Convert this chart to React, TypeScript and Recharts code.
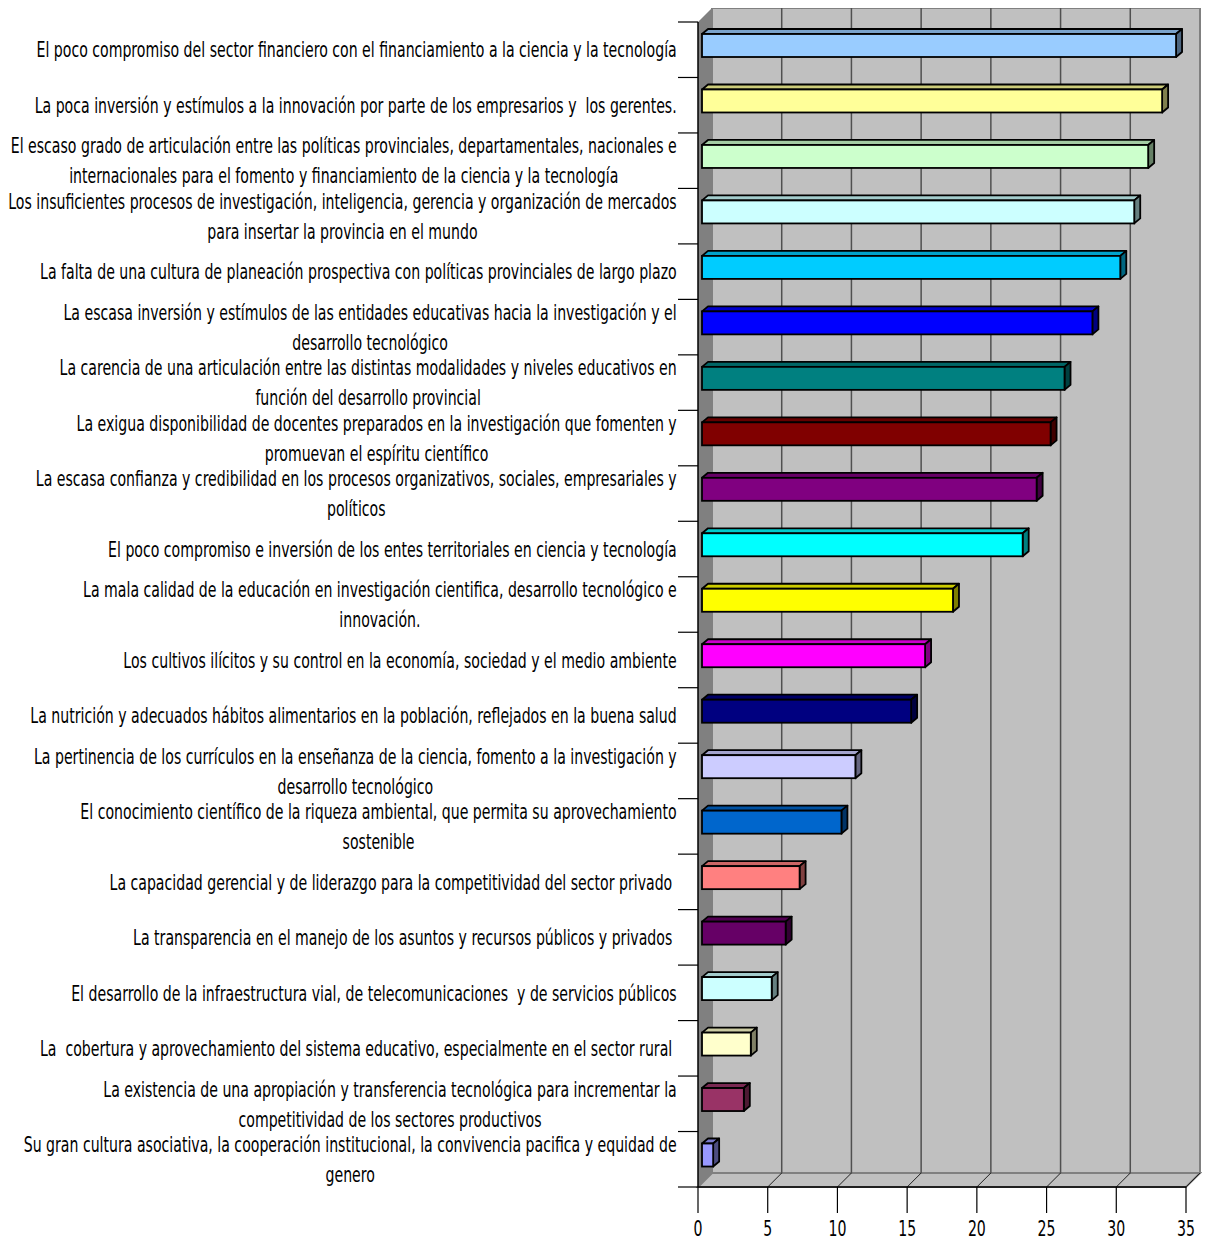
import React from 'react';
import { BarChart, Bar, XAxis, YAxis, Cell, ReferenceArea } from 'recharts';

const categories: string[] = [
  'El poco compromiso del sector financiero con el financiamiento a la ciencia y la tecnología',
  'La poca inversión y estímulos a la innovación por parte de los empresarios y  los gerentes.',
  'El escaso grado de articulación entre las políticas provinciales, departamentales, nacionales e\ninternacionales para el fomento y financiamiento de la ciencia y la tecnología',
  'Los insuficientes procesos de investigación, inteligencia, gerencia y organización de mercados\npara insertar la provincia en el mundo',
  'La falta de una cultura de planeación prospectiva con políticas provinciales de largo plazo',
  'La escasa inversión y estímulos de las entidades educativas hacia la investigación y el\ndesarrollo tecnológico',
  'La carencia de una articulación entre las distintas modalidades y niveles educativos en\nfunción del desarrollo provincial',
  'La exigua disponibilidad de docentes preparados en la investigación que fomenten y\npromuevan el espíritu científico',
  'La escasa confianza y credibilidad en los procesos organizativos, sociales, empresariales y\npolíticos',
  'El poco compromiso e inversión de los entes territoriales en ciencia y tecnología',
  'La mala calidad de la educación en investigación cientifica, desarrollo tecnológico e\ninnovación.',
  'Los cultivos ilícitos y su control en la economía, sociedad y el medio ambiente',
  'La nutrición y adecuados hábitos alimentarios en la población, reflejados en la buena salud',
  'La pertinencia de los currículos en la enseñanza de la ciencia, fomento a la investigación y\ndesarrollo tecnológico',
  'El conocimiento científico de la riqueza ambiental, que permita su aprovechamiento\nsostenible',
  'La capacidad gerencial y de liderazgo para la competitividad del sector privado ',
  'La transparencia en el manejo de los asuntos y recursos públicos y privados ',
  'El desarrollo de la infraestructura vial, de telecomunicaciones  y de servicios públicos',
  'La  cobertura y aprovechamiento del sistema educativo, especialmente en el sector rural ',
  'La existencia de una apropiación y transferencia tecnológica para incrementar la\ncompetitividad de los sectores productivos',
  'Su gran cultura asociativa, la cooperación institucional, la convivencia pacifica y equidad de\ngenero',
];

const values: number[] = [34, 33, 32, 31, 30, 28, 26, 25, 24, 23, 18, 16, 15, 11, 10, 7, 6, 5, 3.5, 3, 0.8];

const barColors: string[] = [
  '#99CCFF', '#FFFF99', '#CCFFCC', '#CCFFFF', '#00CCFF', '#0000FF', '#008080',
  '#800000', '#800080', '#00FFFF', '#FFFF00', '#FF00FF', '#000080', '#CCCCFF',
  '#0066CC', '#FF8080', '#660066', '#CCFFFF', '#FFFFCC', '#993366', '#9999FF',
];

const xTicks: number[] = [0, 5, 10, 15, 20, 25, 30, 35];

const data = categories.map((name, i) => ({ name, value: values[i] }));

const CHART_W = 1200;
const CHART_H = 1232;
const MARGIN = { top: 14, right: 22, bottom: 0, left: 0 };
const Y_AXIS_W = 690;
const X_AXIS_H = 53;
const PLOT_H = CHART_H - MARGIN.top - MARGIN.bottom - X_AXIS_H;
const BAND = PLOT_H / categories.length;
const DEPTH = 14;
const FS = 22;
const SX = 0.642;
const FONT = "'DejaVu Sans', sans-serif";
const Y_TICK_SIZE = 20;
const Y_TICK_MARGIN = 1;

let ctx: CanvasRenderingContext2D | null = null;
function measure(s: string): number {
  if (!ctx) {
    const c = document.createElement('canvas');
    ctx = c.getContext('2d');
  }
  if (!ctx) return s.length * FS * 0.5;
  ctx.font = `${FS}px 'DejaVu Sans'`;
  return ctx.measureText(s).width;
}

function shade(hex: string, f: number): string {
  const n = parseInt(hex.slice(1), 16);
  const r = Math.round(((n >> 16) & 255) * f);
  const g = Math.round(((n >> 8) & 255) * f);
  const b = Math.round((n & 255) * f);
  return `rgb(${r},${g},${b})`;
}

const Bar3D = (props: any) => {
  const { x, y, width, height, fill } = props;
  const fx = x + 4;
  const fy = y - 4;
  const w = width;
  const h = height;
  const dx = 6;
  const dy = 5;
  const sw = 1.8;
  return (
    <g>
      <polygon
        points={`${fx},${fy} ${fx + dx},${fy - dy} ${fx + w + dx},${fy - dy} ${fx + w},${fy}`}
        fill={shade(fill, 0.8)}
        stroke="#000"
        strokeWidth={sw}
        strokeLinejoin="round"
      />
      <polygon
        points={`${fx + w},${fy} ${fx + w + dx},${fy - dy} ${fx + w + dx},${fy + h - dy} ${fx + w},${fy + h}`}
        fill={shade(fill, 0.5)}
        stroke="#000"
        strokeWidth={sw}
        strokeLinejoin="round"
      />
      <rect x={fx} y={fy} width={w} height={h} fill={fill} stroke="#000" strokeWidth={sw} />
    </g>
  );
};

const Walls = (props: any) => {
  const { x, y, width, height } = props;
  const xMax = xTicks[xTicks.length - 1];
  const bottom = y + height;
  return (
    <g>
      <rect x={x + DEPTH} y={y - DEPTH} width={width} height={height} fill="#C0C0C0" stroke="#808080" strokeWidth={2} />
      <polygon
        points={`${x},${y} ${x + DEPTH},${y - DEPTH} ${x + DEPTH},${bottom - DEPTH} ${x},${bottom}`}
        fill="#808080"
      />
      <polygon
        points={`${x},${bottom} ${x + DEPTH},${bottom - DEPTH} ${x + width + DEPTH},${bottom - DEPTH} ${x + width},${bottom}`}
        fill="#C0C0C0"
        stroke="#808080"
        strokeWidth={2}
      />
      {xTicks.map((t) => {
        const px = x + (width * t) / xMax;
        return (
          <g key={t}>
            {t > 0 && t < xMax && (
              <line x1={px + DEPTH} x2={px + DEPTH} y1={y - DEPTH} y2={bottom - DEPTH} stroke="#505050" strokeWidth={1.5} />
            )}
            {t > 0 && (
              <line x1={px} y1={bottom} x2={px + DEPTH} y2={bottom - DEPTH} stroke="#202020" strokeWidth={1} />
            )}
          </g>
        );
      })}
    </g>
  );
};

const YTick = (props: any) => {
  const { x, y, payload, index } = props;
  const lines = String(payload.value).split('\n');
  const w = Math.max(...lines.map(measure)) * SX;
  const cx = x - w / 2;
  const lh = 30;
  const y0 = y - ((lines.length - 1) * lh) / 2;
  const axisX = x + Y_TICK_SIZE + Y_TICK_MARGIN;
  const last = index === categories.length - 1;
  return (
    <g>
      <line x1={axisX - Y_TICK_SIZE} x2={axisX} y1={y - BAND / 2} y2={y - BAND / 2} stroke="#000" strokeWidth={1.2} />
      {last && (
        <line x1={axisX - Y_TICK_SIZE} x2={axisX} y1={y + BAND / 2} y2={y + BAND / 2} stroke="#000" strokeWidth={1.2} />
      )}
      <g transform={`translate(${cx},0) scale(${SX},1)`}>
        {lines.map((l, i) => (
          <text
            key={i}
            x={0}
            y={y0 + i * lh}
            textAnchor="middle"
            dominantBaseline="central"
            fontFamily={FONT}
            fontSize={FS}
            fill="#000"
            style={{ whiteSpace: 'pre' }}
          >
            {l}
          </text>
        ))}
      </g>
    </g>
  );
};

const XTick = (props: any) => {
  const { x, y, payload } = props;
  return (
    <g transform={`translate(${x},${y + 13}) scale(${SX},1)`}>
      <text x={0} y={0} textAnchor="middle" dominantBaseline="central" fontFamily={FONT} fontSize={FS} fill="#000">
        {payload.value}
      </text>
    </g>
  );
};

export default function App() {
  return (
    <div style={{ width: CHART_W, height: CHART_H }}>
      <BarChart width={CHART_W} height={CHART_H} data={data} layout="vertical" margin={MARGIN}>
        <ReferenceArea x1={0} x2={xTicks[xTicks.length - 1]} ifOverflow="visible" shape={Walls} />
        <XAxis
          type="number"
          domain={[0, xTicks[xTicks.length - 1]]}
          ticks={xTicks}
          interval={0}
          height={X_AXIS_H}
          tickSize={26}
          tickMargin={2}
          stroke="#000"
          tickLine={{ stroke: '#000', strokeWidth: 1.2 }}
          axisLine={{ stroke: '#000', strokeWidth: 1.5 }}
          tick={XTick}
        />
        <YAxis
          type="category"
          dataKey="name"
          width={Y_AXIS_W}
          interval={0}
          tickSize={Y_TICK_SIZE}
          tickMargin={Y_TICK_MARGIN}
          tickLine={false}
          axisLine={{ stroke: '#000', strokeWidth: 1.5 }}
          tick={YTick}
        />
        <Bar dataKey="value" barSize={23} shape={Bar3D} isAnimationActive={false}>
          {data.map((d, i) => (
            <Cell key={d.name} fill={barColors[i]} />
          ))}
        </Bar>
      </BarChart>
    </div>
  );
}
